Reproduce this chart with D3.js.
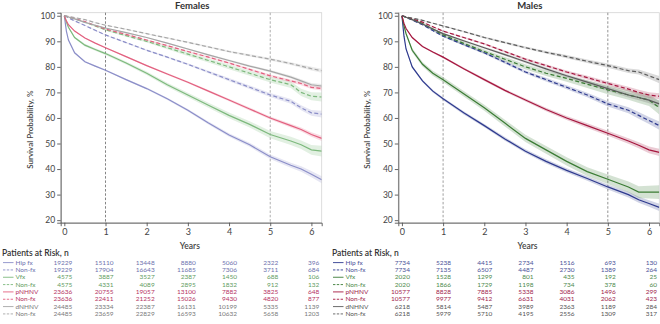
<!DOCTYPE html>
<html>
<head>
<meta charset="utf-8">
<script src="https://cdn.jsdelivr.net/npm/d3@7"></script>
<style>
  body { margin: 0; background: #fff; }
  svg { font-family: Lato, "Open Sans", sans-serif; }
</style>
</head>
<body>
<div id="chart"></div>
<script>
// time grid (years) shared by every curve
const times = [0, 0.05, 0.1, 0.25, 0.5, 0.75, 1, 1.5, 2, 2.5, 3, 3.5, 4, 4.5, 5, 5.5, 5.75, 6, 6.25];
const xTicks = [0, 1, 2, 3, 4, 5, 6];
const yTicks = [20, 30, 40, 50, 60, 70, 80, 90, 100];
const refLines = [1, 5];
const riskTimes = [0, 1, 2, 3, 4, 5, 6];
const rowLabels = ["Hip fx", "Non-fx", "Vfx", "Non-fx", "pNHNV", "Non-fx", "dNHNV", "Non-fx"];

// Females - survival %
const femHip      = [100, 94, 90.5, 85.5, 82, 80.3, 78.7, 75, 71.5, 67.5, 63, 58, 53.3, 49.5, 44.8, 41.5, 40, 38, 35.8];
const femHipNon   = [100, 99.6, 99.2, 98, 96.2, 94.3, 92.5, 89.5, 86.5, 83.8, 81, 78, 75, 72, 69, 66.5, 64, 62, 61.5];
const femVfx      = [100, 97.5, 95.5, 91.5, 88.5, 86.8, 85.2, 81.5, 77.5, 73, 69, 65, 61, 57.5, 53.5, 51, 49.5, 47.5, 47];
const femVfxNon   = [100, 99.8, 99.5, 98.8, 97.5, 96, 94.5, 92.2, 90, 87.5, 85, 82.5, 80, 77.5, 75, 73, 70, 68.5, 68.2];
const femPn       = [100, 98, 96.5, 94, 91.3, 89.3, 87.5, 84, 80.5, 77.2, 74, 70.5, 67, 63.5, 60, 57, 55.5, 53.5, 52];
const femPnNon    = [100, 99.8, 99.6, 99, 97.7, 96.2, 94.8, 92.7, 90.5, 88.3, 86, 83.8, 81.5, 79, 76.5, 74.5, 73.5, 72, 71.5];
const femDn       = [100, 99.8, 99.5, 98.8, 97.4, 96.3, 95.2, 93.4, 91.5, 89.3, 87, 84.7, 82.5, 80.3, 78.3, 76, 74.5, 73, 72.5];
const femDnNon    = [100, 99.9, 99.8, 99.3, 98.5, 97.3, 96.3, 94.7, 93, 91.3, 89.6, 87.8, 86, 84.5, 83, 81.3, 80.3, 79.3, 78.5];

// Females - CI half widths
const ciFemHip    = [0, 0.1, 0.2, 0.25, 0.3, 0.3, 0.3, 0.35, 0.4, 0.45, 0.5, 0.6, 0.7, 0.8, 0.9, 1.0, 1.1, 1.2, 1.4];
const ciFemHipNon = [0, 0, 0.05, 0.1, 0.15, 0.2, 0.2, 0.25, 0.3, 0.35, 0.4, 0.5, 0.6, 0.7, 0.8, 0.9, 1.0, 1.1, 1.3];
const ciFemVfx    = [0, 0.2, 0.3, 0.4, 0.5, 0.5, 0.55, 0.6, 0.7, 0.8, 0.9, 1.0, 1.1, 1.2, 1.4, 1.6, 1.7, 1.9, 2.1];
const ciFemVfxNon = [0, 0.1, 0.1, 0.15, 0.2, 0.3, 0.35, 0.4, 0.5, 0.6, 0.7, 0.8, 0.9, 1.0, 1.1, 1.3, 1.4, 1.6, 1.8];
const ciFemPn     = [0, 0.05, 0.1, 0.15, 0.2, 0.2, 0.25, 0.3, 0.3, 0.35, 0.4, 0.45, 0.5, 0.55, 0.6, 0.7, 0.8, 0.9, 1.0];
const ciFemPnNon  = [0, 0, 0.05, 0.1, 0.1, 0.15, 0.15, 0.2, 0.2, 0.25, 0.3, 0.35, 0.4, 0.45, 0.5, 0.6, 0.65, 0.7, 0.8];
const ciFemDn     = [0, 0, 0.05, 0.1, 0.1, 0.15, 0.15, 0.2, 0.2, 0.25, 0.3, 0.35, 0.4, 0.45, 0.5, 0.6, 0.65, 0.7, 0.8];
const ciFemDnNon  = [0, 0, 0.05, 0.1, 0.1, 0.15, 0.15, 0.2, 0.2, 0.25, 0.3, 0.35, 0.4, 0.45, 0.5, 0.55, 0.6, 0.7, 0.8];

// Males - survival %
const malHip      = [100, 92, 87, 80, 74.5, 70.5, 67.5, 62, 57, 51.8, 47, 43, 39.5, 36.3, 33, 30, 28, 26.5, 25];
const malHipNon   = [100, 99.7, 99.3, 98.3, 96.5, 94.2, 92, 88.7, 85.5, 81.8, 78, 75, 72, 69, 65.5, 63, 61, 59, 57];
const malVfx      = [100, 96, 93, 86.5, 81, 77.5, 75, 69.5, 64, 58, 52, 47.5, 43, 39, 36, 33, 31, 31, 31];
const malVfxNon   = [100, 99.7, 99.4, 98.6, 97, 94.8, 92.5, 89.2, 86, 83, 80, 77.5, 75.5, 73.2, 71, 69, 68, 67, 64];
const malPn       = [100, 97, 95, 91.5, 88, 85.8, 83.8, 79.3, 75, 70.8, 67, 63.3, 60, 57, 54, 51, 49.3, 47.5, 46.5];
const malPnNon    = [100, 99.8, 99.6, 98.8, 97.5, 95.7, 94, 91.5, 89, 86, 83, 80.5, 78, 75.8, 73.5, 71.3, 70, 69, 68.5];
const malDn       = [100, 99.7, 99.4, 98.5, 96.8, 94.8, 93, 90.2, 87.5, 84.8, 82, 79.2, 76.5, 74, 71.5, 69, 68, 67, 65.5];
const malDnNon    = [100, 99.8, 99.6, 99.1, 98.2, 97.1, 96, 93.8, 91.5, 89.5, 87.5, 85.7, 84, 82.2, 80.5, 78.5, 78, 76.5, 75];

// Males - CI half widths
const ciMalHip    = [0, 0.3, 0.4, 0.45, 0.5, 0.5, 0.55, 0.6, 0.65, 0.7, 0.75, 0.8, 0.85, 0.9, 1.0, 1.1, 1.2, 1.3, 1.4];
const ciMalHipNon = [0, 0.05, 0.1, 0.15, 0.25, 0.3, 0.35, 0.4, 0.5, 0.55, 0.6, 0.7, 0.8, 0.9, 1.0, 1.2, 1.3, 1.4, 1.6];
const ciMalVfx    = [0, 0.4, 0.6, 0.8, 0.9, 1.0, 1.0, 1.1, 1.2, 1.3, 1.4, 1.5, 1.6, 1.7, 1.9, 2.1, 2.3, 2.5, 2.7];
const ciMalVfxNon = [0, 0.1, 0.2, 0.3, 0.4, 0.5, 0.6, 0.7, 0.8, 0.9, 1.0, 1.1, 1.3, 1.5, 1.7, 1.9, 2.1, 2.3, 2.6];
const ciMalPn     = [0, 0.15, 0.2, 0.3, 0.3, 0.35, 0.4, 0.45, 0.5, 0.55, 0.6, 0.7, 0.8, 0.9, 1.0, 1.1, 1.2, 1.3, 1.4];
const ciMalPnNon  = [0, 0.05, 0.05, 0.1, 0.15, 0.2, 0.25, 0.3, 0.35, 0.4, 0.45, 0.5, 0.6, 0.7, 0.8, 0.9, 1.0, 1.1, 1.2];
const ciMalDn     = [0, 0.05, 0.1, 0.15, 0.2, 0.25, 0.3, 0.35, 0.4, 0.5, 0.55, 0.6, 0.7, 0.8, 0.9, 1.0, 1.1, 1.2, 1.4];
const ciMalDnNon  = [0, 0.05, 0.05, 0.1, 0.15, 0.2, 0.25, 0.3, 0.35, 0.4, 0.45, 0.5, 0.6, 0.7, 0.8, 0.9, 1.0, 1.2, 1.4];

// Patients at risk
const femRisk = [
  [19229, 15110, 13448, 8880, 5060, 2322, 396],
  [19229, 17904, 16643, 11685, 7306, 3711, 684],
  [4575, 3887, 3527, 2387, 1450, 688, 106],
  [4575, 4331, 4089, 2895, 1832, 912, 132],
  [23636, 20755, 19057, 13100, 7882, 3825, 648],
  [23636, 22411, 21252, 15026, 9430, 4820, 877],
  [24485, 23334, 22387, 16131, 10199, 5335, 1139],
  [24485, 23659, 22829, 16593, 10632, 5658, 1203]
];
const malRisk = [
  [7734, 5238, 4415, 2734, 1516, 693, 130],
  [7734, 7135, 6507, 4487, 2730, 1389, 264],
  [2020, 1528, 1299, 801, 435, 192, 25],
  [2020, 1866, 1729, 1198, 734, 378, 60],
  [10577, 8828, 7885, 5338, 3086, 1496, 299],
  [10577, 9977, 9412, 6631, 4031, 2062, 423],
  [6218, 5814, 5487, 3989, 2363, 1189, 284],
  [6218, 5979, 5710, 4195, 2556, 1309, 317]
];

const femColors  = ["#8b8ec8", "#7db97d", "#e2607f", "#a6a6a6"];
const femText    = ["#6e72ae", "#5f9c5f", "#b5325f", "#7a7a7a"];
const malColors  = ["#2e3a8e", "#3b7c35", "#a5173f", "#5c5c5c"];
const malText    = ["#4a5298", "#4d8a4d", "#a0244c", "#555555"];

const panels = [
  { title: "Females", x0: 60.7, x1: 321.7, tx: 0,
    curves: [femHip, femHipNon, femVfx, femVfxNon, femPn, femPnNon, femDn, femDnNon],
    cis: [ciFemHip, ciFemHipNon, ciFemVfx, ciFemVfxNon, ciFemPn, ciFemPnNon, ciFemDn, ciFemDnNon],
    colors: femColors, text: femText, risk: femRisk, refColors: ["#666", "#999"] },
  { title: "Males", x0: 398.3, x1: 659.3, tx: 330,
    curves: [malHip, malHipNon, malVfx, malVfxNon, malPn, malPnNon, malDn, malDnNon],
    cis: [ciMalHip, ciMalHipNon, ciMalVfx, ciMalVfxNon, ciMalPn, ciMalPnNon, ciMalDn, ciMalDnNon],
    colors: malColors, text: malText, risk: malRisk, refColors: ["#888", "#777"] }
];

const W = 660, H = 324;
const plotTop = 12.7, plotBottom = 222.7;

const svg = d3.select("#chart").append("svg")
  .attr("width", W).attr("height", H);

const y = d3.scaleLinear().domain([19, 101.2]).range([plotBottom, plotTop]);

panels.forEach((p, pi) => {
  const x = d3.scaleLinear().domain([-0.088, 6.25]).range([p.x0, p.x1]);
  const g = svg.append("g");

  // clip
  const clipId = "clip" + pi;
  svg.append("clipPath").attr("id", clipId)
    .append("rect").attr("x", p.x0).attr("y", plotTop)
    .attr("width", p.x1 - p.x0).attr("height", plotBottom - plotTop);

  // light frame
  g.append("rect")
    .attr("x", p.x0).attr("y", plotTop)
    .attr("width", p.x1 - p.x0).attr("height", plotBottom - plotTop)
    .attr("fill", "none").attr("stroke", "#d4d4d4").attr("stroke-width", 0.8);

  // title
  g.append("text")
    .attr("x", (p.x0 + p.x1) / 2 + 1).attr("y", 8.5)
    .attr("text-anchor", "middle")
    .style("font-size", "9.5px").style("font-weight", "bold").attr("fill", "#333")
    .text(p.title);

  // reference lines
  g.selectAll(".ref").data(refLines).enter().append("line")
    .attr("x1", d => x(d)).attr("x2", d => x(d))
    .attr("y1", plotTop).attr("y2", plotBottom)
    .attr("stroke", (d, i) => p.refColors[i]).attr("stroke-width", 0.8)
    .attr("stroke-dasharray", "2.5,1.8");

  const plot = g.append("g").attr("clip-path", `url(#${clipId})`);

  const area = d3.area()
    .x((d, i) => x(times[i]))
    .y0(d => y(d[0] - d[1]))
    .y1(d => y(d[0] + d[1]));
  const line = d3.line()
    .x((d, i) => x(times[i]))
    .y(d => y(d));

  // bands
  p.curves.forEach((c, si) => {
    const band = c.map((v, i) => [v, p.cis[si][i]]);
    plot.append("path")
      .attr("d", area(band))
      .attr("fill", p.colors[Math.floor(si / 2)])
      .attr("opacity", 0.22);
  });

  // lines
  p.curves.forEach((c, si) => {
    plot.append("path")
      .attr("d", line(c))
      .attr("fill", "none")
      .attr("stroke", p.colors[Math.floor(si / 2)])
      .attr("stroke-width", 1.2)
      .attr("stroke-dasharray", si % 2 ? "4,2.4" : null);
  });

  // axes
  const yAxis = d3.axisLeft(y).tickValues(yTicks).tickSize(3.5).tickPadding(2);
  const yg = g.append("g").attr("transform", `translate(${p.x0},0)`).call(yAxis);
  const xAxis = d3.axisBottom(x).tickValues(xTicks).tickFormat(d3.format("d"))
    .tickSize(3.5).tickPadding(2.5);
  const xg = g.append("g").attr("transform", `translate(0,${plotBottom})`).call(xAxis);
  [yg, xg].forEach(a => {
    a.select(".domain").attr("stroke", "#555").attr("stroke-width", 0.9);
    a.selectAll(".tick line").attr("stroke", "#555").attr("stroke-width", 0.9);
    a.selectAll(".tick text").attr("fill", "#444").style("font-size", "8.5px")
      .style("font-family", "Lato, 'Open Sans', sans-serif");
  });
  xg.selectAll(".tick text").style("font-size", "9px");

  // axis titles
  g.append("text")
    .attr("transform", `translate(${p.x0 - 28},${(plotTop + plotBottom) / 2 + 12}) rotate(-90)`)
    .attr("text-anchor", "middle")
    .style("font-size", "8px").style("font-weight", "600").attr("fill", "#444")
    .text("Survival Probability, %");
  g.append("text")
    .attr("x", x(3) + 2).attr("y", 248.5)
    .attr("text-anchor", "middle")
    .style("font-size", "8.5px").style("font-weight", "600").attr("fill", "#444")
    .text("Years");

  // patients at risk table
  g.append("text")
    .attr("x", p.tx + 2).attr("y", 255.5)
    .style("font-size", "8.5px").style("font-weight", "600").attr("fill", "#333")
    .text("Patients at Risk, n");

  const rows = g.selectAll(".risk-row").data(p.risk).enter().append("g")
    .attr("transform", (d, i) => `translate(0,${264.6 + i * 7.33})`);

  rows.append("line")
    .attr("x1", p.tx + 3).attr("x2", p.tx + 13.5)
    .attr("y1", -2).attr("y2", -2)
    .attr("stroke", (d, i) => p.colors[Math.floor(i / 2)])
    .attr("stroke-width", 0.9)
    .attr("stroke-dasharray", (d, i) => i % 2 ? "2.4,1.4" : null);

  rows.append("text")
    .attr("x", p.tx + 15.5).attr("y", 0)
    .style("font-size", "6.5px")
    .attr("fill", (d, i) => p.text[Math.floor(i / 2)])
    .text((d, i) => rowLabels[i]);

  rows.each(function(d, i) {
    d3.select(this).selectAll(".n").data(d).enter().append("text")
      .attr("x", (v, j) => x(riskTimes[j]) + 8)
      .attr("y", 0)
      .attr("text-anchor", "end")
      .style("font-size", "6.5px")
      .attr("fill", p.text[Math.floor(i / 2)])
      .text(v => v);
  });
});
</script>
</body>
</html>
